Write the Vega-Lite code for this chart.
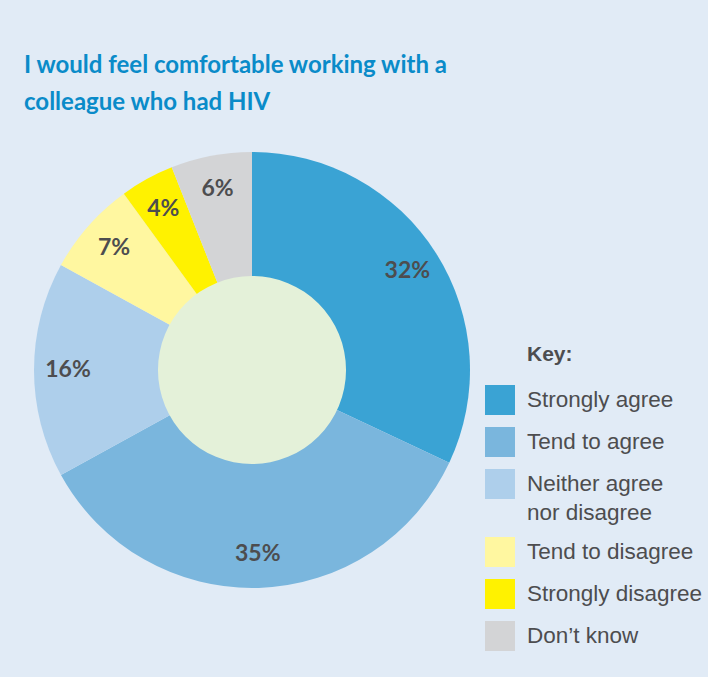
{
  "$schema": "https://vega.github.io/schema/vega-lite/v6.json",
  "width": 488,
  "height": 614,
  "autosize": {"type": "none"},
  "padding": {"left": 8, "top": 63, "right": 212, "bottom": 0},
  "background": "#e1ebf6",
  "config": {"view": {"stroke": null}},
  "title": {
    "text": ["I would feel comfortable working with a", "colleague who had HIV"],
    "anchor": "start",
    "frame": "group",
    "offset": -52,
    "dx": 16,
    "font": "Lato",
    "fontSize": 24,
    "fontWeight": "bold",
    "color": "#0a8bc9",
    "lineHeight": 37
  },
  "resolve": {"scale": {"theta": "independent"}},
  "layer": [
    {
      "data": {
        "values": [
          {"response": "Strongly agree", "pct": 32, "label": "32%", "rank": 1},
          {"response": "Tend to agree", "pct": 35, "label": "35%", "rank": 2},
          {"response": "Neither agree nor disagree", "pct": 16, "label": "16%", "rank": 3},
          {"response": "Tend to disagree", "pct": 7, "label": "7%", "rank": 4},
          {"response": "Strongly disagree", "pct": 4, "label": "4%", "rank": 5},
          {"response": "Don’t know", "pct": 6, "label": "6%", "rank": 6}
        ]
      },
      "layer": [
        {
          "mark": {"type": "arc", "radius": 218},
          "encoding": {
            "theta": {"field": "pct", "type": "quantitative", "stack": true},
            "order": {"field": "rank", "type": "quantitative"},
            "color": {
              "field": "response",
              "type": "nominal",
              "scale": {
                "domain": ["Strongly agree", "Tend to agree", "Neither agree nor disagree", "Tend to disagree", "Strongly disagree", "Don’t know"],
                "range": ["#3aa3d4", "#7ab6dd", "#aecfeb", "#fff7a0", "#fff200", "#d3d4d6"]
              },
              "legend": {
                "title": "Key:",
                "orient": "none",
                "legendX": 519,
                "legendY": 281,
                "padding": 0,
                "symbolType": "square",
                "symbolSize": 900,
                "symbolStrokeWidth": 0,
                "symbolOpacity": 1,
                "symbolOffset": -42,
                "labelOffset": 12,
                "labelFont": "Liberation Sans",
                "labelFontSize": 22.5,
                "labelColor": "#4d4d4f",
                "labelLimit": 300,
                "titleFont": "Liberation Sans",
                "titleFontSize": 21,
                "titleFontWeight": "bold",
                "titleColor": "#4d4d4f",
                "titlePadding": 20,
                "rowPadding": 12,
                "labelExpr": "datum.label == 'Neither agree nor disagree' ? ['Neither agree', 'nor disagree'] : datum.label",
                "encode": {
                  "labels": {"update": {"lineHeight": {"value": 29}}}
                }
              }
            }
          }
        },
        {
          "mark": {"type": "text", "radius": 184, "font": "Lato", "fontWeight": "bold", "fontSize": 23, "color": "#4d4d4f"},
          "encoding": {
            "theta": {"field": "pct", "type": "quantitative", "stack": true},
            "order": {"field": "rank", "type": "quantitative"},
            "detail": {"field": "response", "type": "nominal"},
            "text": {"field": "label", "type": "nominal"}
          }
        }
      ]
    },
    {
      "data": {"values": [{"part": "centre", "value": 1}]},
      "mark": {"type": "arc", "radius": 94, "color": "#e4f1d9"},
      "encoding": {
        "theta": {"field": "value", "type": "quantitative"}
      }
    }
  ]
}
